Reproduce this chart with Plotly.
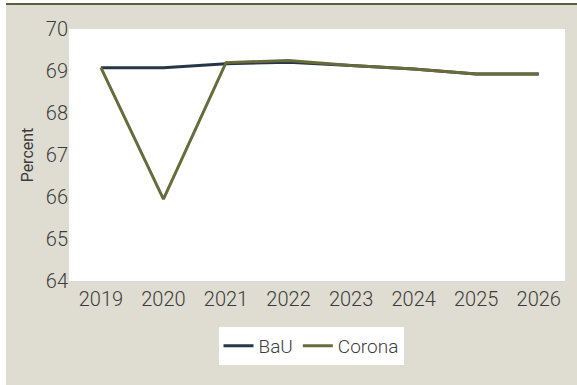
import plotly.graph_objects as go

years = [2019, 2020, 2021, 2022, 2023, 2024, 2025, 2026]
bau = [69.08, 69.08, 69.17, 69.21, 69.13, 69.05, 68.93, 68.93]
corona = [69.08, 65.95, 69.20, 69.25, 69.13, 69.05, 68.93, 68.93]
y_ticks = [64, 65, 66, 67, 68, 69, 70]

W, H = 577, 385
L, R, T, B = 69, 565, 29, 281
FONT = "Roboto, sans-serif"
BG = "#dfdcd1"

def px(x):
    return (x - L) / (R - L)

def py(y):
    return (B - y) / (B - T)

fig = go.Figure()
fig.add_trace(go.Scatter(x=years, y=bau, mode="lines", name="BaU",
                         line=dict(color="#263646", width=3)))
fig.add_trace(go.Scatter(x=years, y=corona, mode="lines", name="Corona",
                         line=dict(color="#686b3c", width=3)))

fig.update_layout(
    width=W, height=H,
    margin=dict(l=L, r=W - R, t=T, b=H - B),
    paper_bgcolor=BG, plot_bgcolor="white",
    font=dict(family=FONT, size=20, color="#3c3c3c", weight=300),
    xaxis=dict(range=[2018.49, 2026.42], tickvals=years, ticktext=[str(y) for y in years],
               showgrid=False, zeroline=False, showline=True, linecolor="#d8d8d8",
               linewidth=1, ticks="",
               tickfont=dict(family=FONT, size=20, weight=300)),
    yaxis=dict(range=[64, 70], tickvals=y_ticks, showgrid=False, zeroline=False,
               ticks="", tickfont=dict(family=FONT, size=20, weight=300),
               title=dict(text="Percent", font=dict(family=FONT, size=16, weight=400),
                          standoff=8)),
    legend=dict(orientation="h", x=px(311), xanchor="center", y=py(327), yanchor="top",
                bgcolor="white", font=dict(family=FONT, size=19, weight=300),
                itemwidth=30, traceorder="normal"),
    showlegend=True,
    shapes=[
        dict(type="rect", xref="paper", yref="paper", x0=px(-5), x1=px(W + 5),
             y0=py(4), y1=py(-5), fillcolor="white", line=dict(width=0)),
        dict(type="rect", xref="paper", yref="paper", x0=px(-5), x1=px(6),
             y0=py(H + 5), y1=py(-5), fillcolor="white", line=dict(width=0)),
        dict(type="line", xref="paper", yref="paper", x0=px(6), x1=px(W + 5),
             y0=py(4), y1=py(4), line=dict(color="#5f5f40", width=2)),
    ],
)

fig.write_html("out.html", config={"displayModeBar": False},
               post_script="document.body.style.margin='0';")
